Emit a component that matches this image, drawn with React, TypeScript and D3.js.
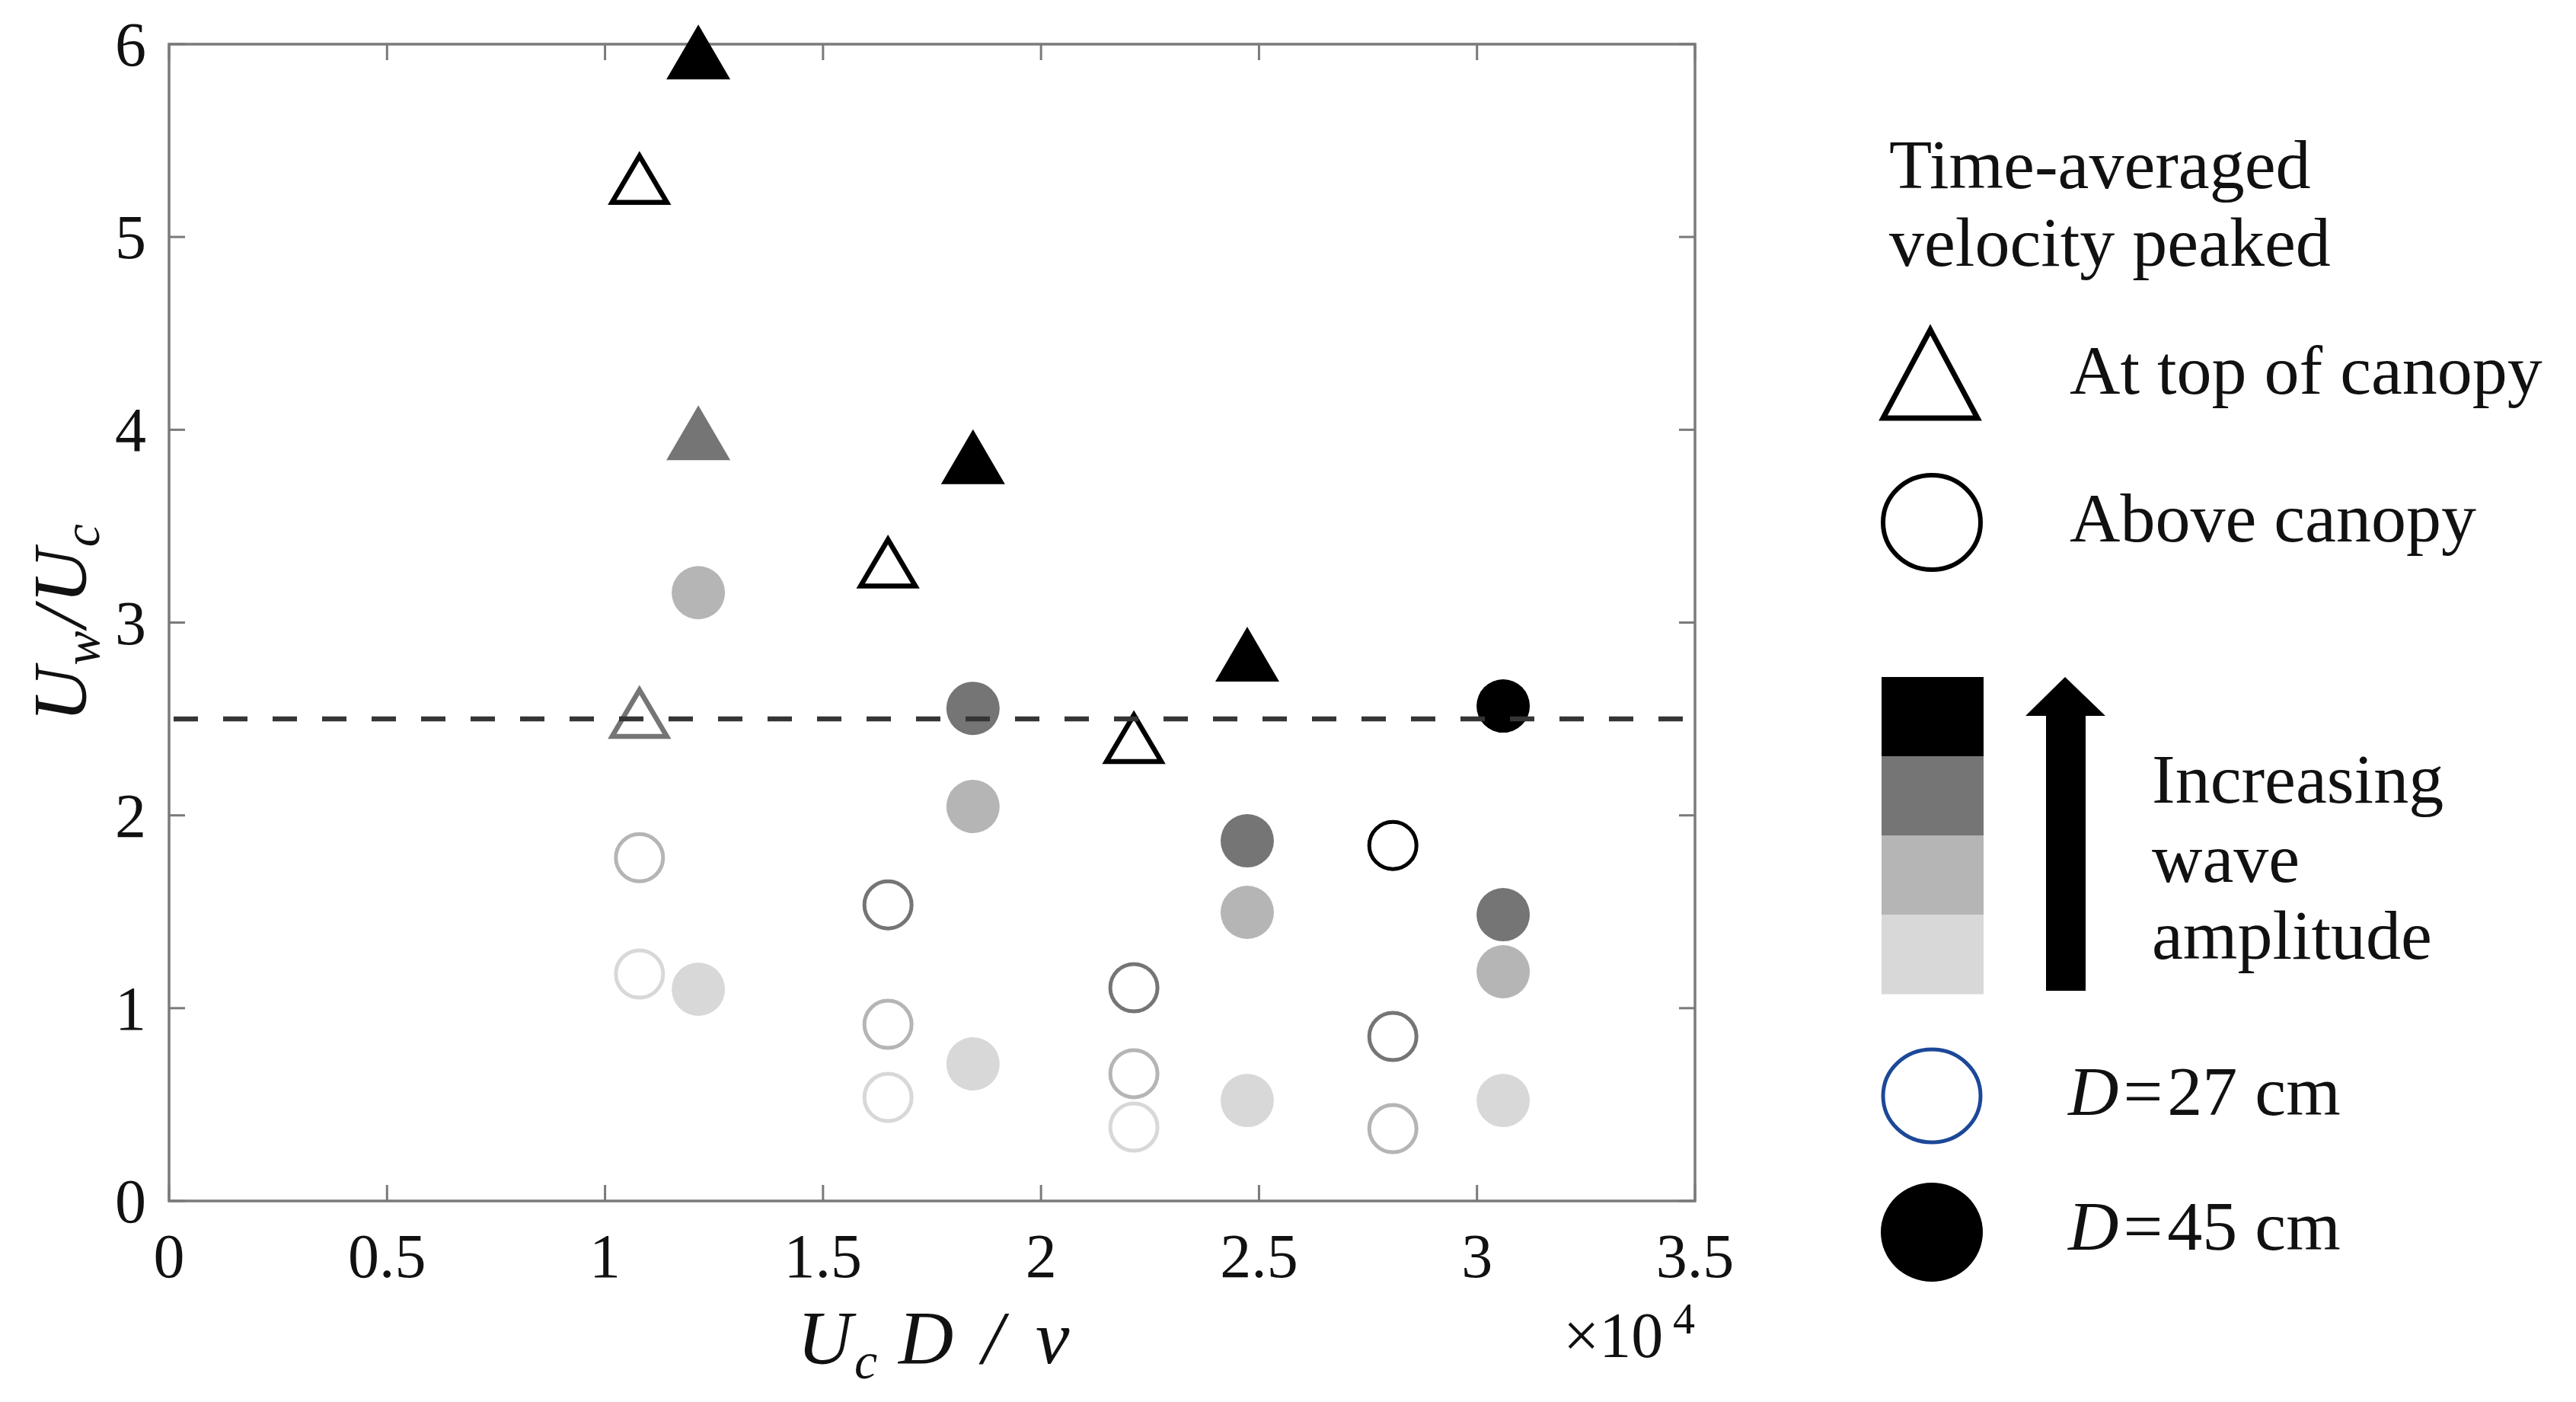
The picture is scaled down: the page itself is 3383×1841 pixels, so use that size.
import React from "react";
import * as d3 from "d3";

// ---------- data ----------
// x: Uc D / nu (x10^4), y: Uw / Uc, shape: where the velocity peaked, level: wave amplitude (0 lowest .. 3 highest)
const d27Points = [
  { x: 1.079, y: 5.30, shape: "tri", level: 3 },
  { x: 1.079, y: 2.53, shape: "tri", level: 2 },
  { x: 1.079, y: 1.78, shape: "circ", level: 1 },
  { x: 1.079, y: 1.177, shape: "circ", level: 0 },
  { x: 1.649, y: 3.31, shape: "tri", level: 3 },
  { x: 1.649, y: 1.536, shape: "circ", level: 2 },
  { x: 1.649, y: 0.916, shape: "circ", level: 1 },
  { x: 1.649, y: 0.537, shape: "circ", level: 0 },
  { x: 2.213, y: 2.40, shape: "tri", level: 3 },
  { x: 2.213, y: 1.106, shape: "circ", level: 2 },
  { x: 2.213, y: 0.66, shape: "circ", level: 1 },
  { x: 2.213, y: 0.383, shape: "circ", level: 0 },
  { x: 2.807, y: 1.844, shape: "circ", level: 3 },
  { x: 2.807, y: 0.853, shape: "circ", level: 2 },
  { x: 2.807, y: 0.375, shape: "circ", level: 1 },
];

const d45Points = [
  { x: 1.214, y: 5.96, shape: "tri", level: 3 },
  { x: 1.214, y: 3.985, shape: "tri", level: 2 },
  { x: 1.214, y: 3.155, shape: "circ", level: 1 },
  { x: 1.214, y: 1.098, shape: "circ", level: 0 },
  { x: 1.844, y: 3.86, shape: "tri", level: 3 },
  { x: 1.844, y: 2.555, shape: "circ", level: 2 },
  { x: 1.844, y: 2.046, shape: "circ", level: 1 },
  { x: 1.844, y: 0.711, shape: "circ", level: 0 },
  { x: 2.473, y: 2.836, shape: "tri", level: 3 },
  { x: 2.473, y: 1.868, shape: "circ", level: 2 },
  { x: 2.473, y: 1.497, shape: "circ", level: 1 },
  { x: 2.473, y: 0.521, shape: "circ", level: 0 },
  { x: 3.06, y: 2.567, shape: "circ", level: 3 },
  { x: 3.06, y: 1.485, shape: "circ", level: 2 },
  { x: 3.06, y: 1.189, shape: "circ", level: 1 },
  { x: 3.06, y: 0.521, shape: "circ", level: 0 },
];

const thresholdY = 2.5;
const xTicks = [0, 0.5, 1, 1.5, 2, 2.5, 3, 3.5];
const xTickLabels = ["0", "0.5", "1", "1.5", "2", "2.5", "3", "3.5"];
const yTicks = [0, 1, 2, 3, 4, 5, 6];
const yTickLabels = ["0", "1", "2", "3", "4", "5", "6"];
const legendAmplitudeLevels = [3, 2, 1, 0];

// ---------- styles ----------
const W = 3383;
const H = 1841;
const M = { left: 222, right: 2226, top: 58, bottom: 1577 };
const grays = ["#d8d8d8", "#b5b5b5", "#757575", "#000000"];
const FONT = "'Liberation Serif', 'Times New Roman', serif";
const AXIS = "#7a7a7a";

function triPath(cx: number, cy: number, w: number, h: number) {
  return `M${cx},${cy - h / 2}L${cx + w / 2},${cy + h / 2}L${cx - w / 2},${cy + h / 2}Z`;
}

export default function App() {
  const x = d3.scaleLinear().domain([0, 3.5]).range([M.left, M.right]);
  const y = d3.scaleLinear().domain([0, 6]).range([M.bottom, M.top]);
  const tickLen = 21;

  const renderOpen = (p: any, i: number) => {
    const cx = x(p.x);
    const cy = y(p.y);
    const c = grays[p.level];
    if (p.shape === "tri")
      return (
        <path key={"o" + i} d={triPath(cx, cy, 72, 61)} fill="none" stroke={c} strokeWidth={6.5} strokeLinejoin="miter" />
      );
    return <circle key={"o" + i} cx={cx} cy={cy} r={31} fill="none" stroke={c} strokeWidth={5} />;
  };
  const renderFilled = (p: any, i: number) => {
    const cx = x(p.x);
    const cy = y(p.y);
    const c = grays[p.level];
    if (p.shape === "tri") return <path key={"f" + i} d={triPath(cx, cy, 84, 72)} fill={c} />;
    return <circle key={"f" + i} cx={cx} cy={cy} r={35} fill={c} />;
  };

  const barTop = 889;
  const barH = 104;

  return (
    <svg
      width={W}
      height={H}
      viewBox={`0 0 ${W} ${H}`}
      style={{ position: "absolute", left: 0, top: 0, display: "block", background: "#fff" }}
      fontFamily={FONT}
    >
      <rect x={0} y={0} width={W} height={H} fill="#fff" />

      {/* axes box */}
      <rect
        x={M.left}
        y={M.top}
        width={M.right - M.left}
        height={M.bottom - M.top}
        fill="none"
        stroke={AXIS}
        strokeWidth={3.5}
      />
      {xTicks.map((t, i) => (
        <g key={"xt" + i}>
          <line x1={x(t)} x2={x(t)} y1={M.bottom} y2={M.bottom - tickLen} stroke={AXIS} strokeWidth={3} />
          <line x1={x(t)} x2={x(t)} y1={M.top} y2={M.top + tickLen} stroke={AXIS} strokeWidth={3} />
          <text x={x(t)} y={1677} textAnchor="middle" fontSize={82} fill="#111">
            {xTickLabels[i]}
          </text>
        </g>
      ))}
      {yTicks.map((t, i) => (
        <g key={"yt" + i}>
          <line x1={M.left} x2={M.left + tickLen} y1={y(t)} y2={y(t)} stroke={AXIS} strokeWidth={3} />
          <line x1={M.right} x2={M.right - tickLen} y1={y(t)} y2={y(t)} stroke={AXIS} strokeWidth={3} />
          <text x={192} y={y(t) + 28} textAnchor="end" fontSize={82} fill="#111">
            {yTickLabels[i]}
          </text>
        </g>
      ))}

      {/* x axis label: Uc D / nu */}
      <text fontSize={100} fontStyle="italic" fill="#111">
        <tspan x={1047} y={1790}>U</tspan>
        <tspan x={1122} y={1810} fontSize={68}>c</tspan>
        <tspan x={1180} y={1790}>D</tspan>
        <tspan x={1290} y={1790}>/</tspan>
        <tspan x={1360} y={1790}>ν</tspan>
      </text>
      {/* x10^4 */}
      <text fontSize={84} fill="#111">
        <tspan x={2053} y={1782}>×10</tspan>
        <tspan x={2197} y={1751} fontSize={58}>4</tspan>
      </text>

      {/* y axis label: Uw / Uc */}
      <g transform="translate(112, 818) rotate(-90)">
        <text textAnchor="middle" fontSize={100} fontStyle="italic" fill="#111">
          <tspan>U</tspan>
          <tspan dy={18} dx={2} fontSize={68}>w</tspan>
          <tspan dy={-18} dx={4}>/</tspan>
          <tspan dx={4}>U</tspan>
          <tspan dy={18} dx={2} fontSize={68}>c</tspan>
        </text>
      </g>

      {/* markers */}
      {d27Points.map(renderOpen)}
      {d45Points.map(renderFilled)}

      {/* threshold dashed line */}
      <line
        x1={M.left + 6}
        x2={M.right - 2}
        y1={y(thresholdY)}
        y2={y(thresholdY)}
        stroke="#353535"
        strokeWidth={6.5}
        strokeDasharray="32 33"
      />

      {/* legend */}
      <g fill="#111" fontSize={92}>
        <text x={2481} y={247}>Time-averaged</text>
        <text x={2481} y={349}>velocity peaked</text>

        <path d={triPath(2535, 491, 124, 116)} fill="none" stroke="#000" strokeWidth={7} />
        <text x={2718} y={517}>At top of canopy</text>

        <ellipse cx={2537} cy={686} rx={64} ry={62} fill="none" stroke="#000" strokeWidth={6} />
        <text x={2718} y={711}>Above canopy</text>

        {legendAmplitudeLevels.map((lv, i) => (
          <rect key={"bar" + i} x={2471} y={barTop + i * barH} width={134} height={barH + 0.5} fill={grays[lv]} />
        ))}
        <path
          d="M2712,889L2765,940L2739,940L2739,1301L2687,1301L2687,940L2660,940Z"
          fill="#000"
        />
        <text x={2826} y={1054}>Increasing</text>
        <text x={2826} y={1158}>wave</text>
        <text x={2826} y={1259}>amplitude</text>

        <ellipse cx={2537} cy={1439} rx={64} ry={61} fill="none" stroke="#1c4898" strokeWidth={5} />
        <text x={2716} y={1464}>
          <tspan fontStyle="italic">D</tspan>
          <tspan dx={6}>=</tspan>
          <tspan dx={6}>27 cm</tspan>
        </text>

        <ellipse cx={2537} cy={1618} rx={67} ry={65} fill="#000" />
        <text x={2716} y={1641}>
          <tspan fontStyle="italic">D</tspan>
          <tspan dx={6}>=</tspan>
          <tspan dx={6}>45 cm</tspan>
        </text>
      </g>
    </svg>
  );
}
